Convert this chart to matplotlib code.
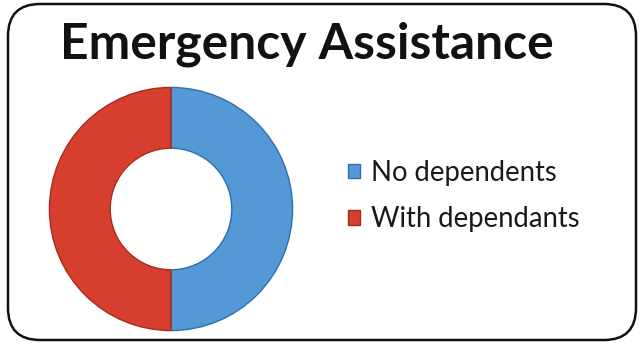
import matplotlib
matplotlib.use("Agg")
import matplotlib.pyplot as plt
from matplotlib.patches import FancyBboxPatch

categories = ["No dependents", "With dependants"]
shares = [50, 50]
colors = ["#5498d6", "#d63f2e"]
edge_colors = ["#2f6fae", "#a82a1c"]
title = "Emergency Assistance"

W, H = 642, 346
fig = plt.figure(figsize=(W / 100, H / 100), dpi=100)
fig.patch.set_facecolor("white")

# rounded frame around the whole chart
frame = FancyBboxPatch((8 / W, 6 / H), (W - 14) / W, (H - 10) / H,
                       boxstyle="round,pad=0,rounding_size=0.05",
                       transform=fig.transFigure, fill=False,
                       edgecolor="#111111", linewidth=1.8,
                       mutation_aspect=W / H)
fig.patches.append(frame)

fig.text(307 / W, 1 - 44 / H, title, ha="center", va="center",
         fontsize=35.8, fontweight="bold", family="Lato", color="#111111")

cx, cy, r = 171, 209, 124
ax = fig.add_axes([(cx - r) / W, (H - cy - r) / H, 2 * r / W, 2 * r / H])
wedges, _ = ax.pie(shares, colors=colors, startangle=90, counterclock=False,
                   radius=1.0,
                   wedgeprops=dict(width=0.5, linewidth=1.0))
for w, ec in zip(wedges, edge_colors):
    w.set_edgecolor(ec)
ax.set_xlim(-1.02, 1.02)
ax.set_ylim(-1.02, 1.02)
ax.set_aspect("equal")
ax.axis("off")

leg = fig.legend(wedges, categories, loc="upper left",
                 bbox_to_anchor=(323 / W, 1 - 135 / H),
                 frameon=False, handlelength=0.45, handleheight=0.45,
                 handletextpad=0.4, labelspacing=0.75,
                 prop=dict(family="Lato", size=19.8))
for t in leg.get_texts():
    t.set_color("#1a1a1a")

fig.savefig("out.png", dpi=100)
